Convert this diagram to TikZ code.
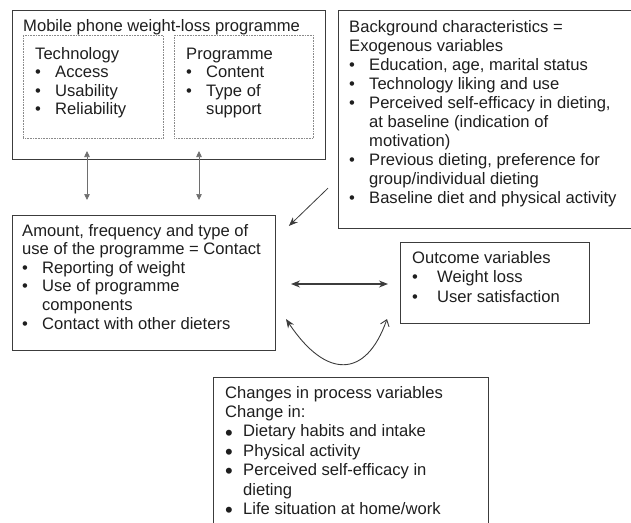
\documentclass[tikz,border=0pt]{standalone}
\usepackage{fontspec}
\setmainfont{Liberation Sans}
\usetikzlibrary{arrows.meta}

\definecolor{ink}{HTML}{1E1E1E}
\definecolor{frame}{HTML}{3C3C3C}
\definecolor{dotline}{HTML}{8A8A8A}

% bullet followed by a gap of width #1; continuation indent of the same width
\newcommand\bul[1]{\makebox[#1][l]{•}}
\newcommand\bigbul[1]{\makebox[#1][l]{\smash{\raisebox{-3.2pt}{\fontsize{22}{22}\selectfont •}}}}
\newcommand\cont[1]{\hspace*{#1}}
% block of lines, first baseline at the node's base anchor
\newcommand\tblock[2]{\parbox[t]{300pt}{\raggedright\baselineskip=#1\relax #2}}

\begin{document}
\begin{tikzpicture}[x=1pt,y=-1pt,
  box/.style={draw=frame, line width=1pt, rectangle, inner sep=0pt, anchor=north west},
  subbox/.style={draw=dotline, line width=0.8pt, dash pattern=on 0.8pt off 0.8pt, rectangle, inner sep=0pt, anchor=north west},
  txt/.style={inner sep=0pt, anchor=base west, text=ink, font=\fontsize{16.6}{19}\selectfont},
  link/.style={draw=dotline, line width=0.7pt, {Triangle[length=6pt,width=5.5pt]}-{Triangle[length=6pt,width=5.5pt]}, color=dotline!80!black},
  flow/.style={draw=frame, line width=1.1pt},
]
\useasboundingbox (0,0) rectangle (631,522);
\clip (0,0) rectangle (631,522);

% frames
\node[box, minimum width=313pt, minimum height=149pt] (boxA) at (12,10) {};
\node[subbox, minimum width=140pt, minimum height=103pt] (tech) at (23,35) {};
\node[subbox, minimum width=139pt, minimum height=103pt] (prog) at (174,35) {};
\node[box, minimum width=300pt, minimum height=218pt] (boxB) at (338,10) {};
\node[box, minimum width=263pt, minimum height=135pt] (boxC) at (12,215) {};
\node[box, minimum width=189pt, minimum height=81pt] (boxD) at (400,242) {};
\node[box, minimum width=275pt, minimum height=170pt] (boxE) at (213,377) {};

% texts
\node[txt] (tA) at (23,31) {\tblock{19pt}{Mobile phone weight-loss programme}};
\node[txt] (tTech) at (35,59) {\tblock{18.5pt}{Technology\\
  \bul{20pt}Access\\
  \bul{20pt}Usability\\
  \bul{20pt}Reliability}};
\node[txt] (tProg) at (186,59) {\tblock{18.5pt}{Programme\\
  \bul{20pt}Content\\
  \bul{20pt}Type of\\
  \cont{20pt}support}};
\node[txt] (tB) at (349,32) {\tblock{19pt}{Background characteristics =\\
  Exogenous variables\\
  \bul{20pt}Education, age, marital status\\
  \bul{20pt}Technology liking and use\\
  \bul{20pt}Perceived self-efficacy in dieting,\\
  \cont{20pt}at baseline (indication of\\
  \cont{20pt}motivation)\\
  \bul{20pt}Previous dieting, preference for\\
  \cont{20pt}group/individual dieting\\
  \bul{20pt}Baseline diet and physical activity}};
\node[txt] (tC) at (22,236) {\tblock{18.6pt}{Amount, frequency and type of\\
  use of the programme = Contact\\
  \bul{20pt}Reporting of weight\\
  \bul{20pt}Use of programme\\
  \cont{20pt}components\\
  \bul{20pt}Contact with other dieters}};
\node[txt] (tD) at (412,263.5) {\tblock{19.3pt}{Outcome variables\\
  \bul{25pt}Weight loss\\
  \bul{25pt}User satisfaction}};
\node[txt] (tE) at (225,398) {\tblock{19.4pt}{Changes in process variables\\
  Change in:\\
  \bigbul{18pt}Dietary habits and intake\\
  \bigbul{18pt}Physical activity\\
  \bigbul{18pt}Perceived self-efficacy in\\
  \cont{18pt}dieting\\
  \bigbul{18pt}Life situation at home/work}};

% connectors
\coordinate (v1) at (87,0);
\coordinate (v2) at (199,0);
\draw[link, shorten <=-9pt, shorten >=15pt] (boxA.south -| v1) -- (boxC.north -| v1);
\draw[link, shorten <=-9pt, shorten >=15pt] (boxA.south -| v2) -- (boxC.north -| v2);

\coordinate (dg1) at (0,178.5);
\coordinate (dg2) at (0,238.4);
\draw[flow, -{Stealth[length=9pt,width=7pt]}, line width=0.8pt, shorten <=13.8pt, shorten >=17.9pt]
  (boxB.west |- dg1) -- (boxC.east |- dg2);

\coordinate (hz) at (0,284);
\draw[flow, {Stealth[length=9pt,width=7pt]}-{Stealth[length=9pt,width=7pt]}, shorten <=15pt, shorten >=12pt]
  (boxC.east |- hz) -- (boxD.west |- hz);

\coordinate (cl) at ([shift={(10,-32)}]boxC.south east);
\coordinate (cr) at ([shift={(-13,-5)}]boxD.south west);
\draw[flow, line width=0.9pt, {Stealth[length=9pt,width=7pt]}-{Straight Barb[length=6pt,width=9pt]}]
  (cl) .. controls ([shift={(40,60)}]cl) and ([shift={(-21,60)}]cr) .. (cr);
\end{tikzpicture}
\end{document}
